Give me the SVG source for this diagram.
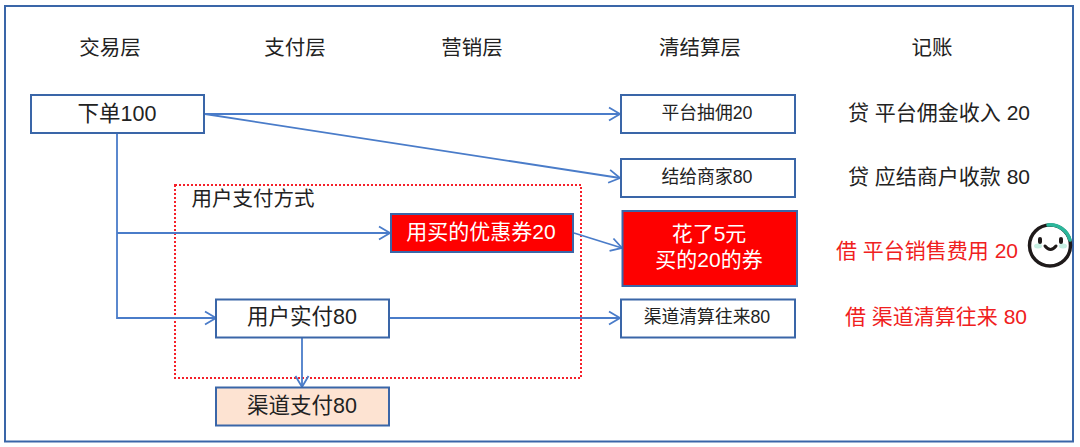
<svg xmlns="http://www.w3.org/2000/svg" width="1080" height="447" viewBox="0 0 1080 447">
<style>
text{font-family:"Liberation Sans","Noto Sans CJK SC",sans-serif;text-anchor:middle;fill:#222}
.box{fill:#fff;stroke:#3a66a8;stroke-width:2}
.c{fill:none;stroke:#4a7cc9;stroke-width:1.8}
.f20{font-size:20.5px}.f21{font-size:21px}.f22{font-size:21.5px}.f18{font-size:17.800px}
.red{fill:#f02020}
</style>
<defs>
<marker id="arr" markerUnits="userSpaceOnUse" markerWidth="14" markerHeight="16" refX="12" refY="8" orient="auto"><path d="M1 1.5 L12 8 L1 14.500" fill="none" stroke="#4a7cc9" stroke-width="1.8"/></marker>
</defs>
<rect width="1080" height="447" fill="#fff"/>
<rect id="frame" x="5" y="6" width="1068" height="435.500" fill="none" stroke="#3a66a8" stroke-width="2"/>
<g id="headers" class="f20">
<text x="110" y="55">交易层</text>
<text x="295" y="55">支付层</text>
<text x="472" y="55">营销层</text>
<text x="700" y="55">清结算层</text>
<text x="932" y="55">记账</text>
</g>
<g id="group-user-pay">
<rect x="175" y="185" width="406" height="193" fill="none" stroke="#f5202a" stroke-width="2" stroke-dasharray="2 2"/>
<text x="253" y="206" class="f20">用户支付方式</text>
</g>
<g id="connectors">
<path class="c" d="M205 114H620" marker-end="url(#arr)"/>
<path class="c" d="M205 114L620 178" marker-end="url(#arr)"/>
<path class="c" d="M117 133V318H216" marker-end="url(#arr)"/>
<path class="c" d="M117 233H390" marker-end="url(#arr)"/>
<path class="c" d="M574 233L622 248" marker-end="url(#arr)"/>
<path class="c" d="M390 318H620" marker-end="url(#arr)"/>
<path class="c" d="M302 338V387" marker-end="url(#arr)"/>
</g>
<g id="node-order"><rect class="box" x="31" y="95" width="173" height="38"/><text x="117" y="121" class="f22">下单100</text></g>
<g id="node-commission"><rect class="box" x="621" y="95" width="174" height="38"/><text x="707" y="119" class="f18">平台抽佣20</text></g>
<g id="node-merchant"><rect class="box" x="621" y="159" width="174" height="38"/><text x="707" y="183" class="f18">结给商家80</text></g>
<g id="node-coupon"><rect class="box" style="fill:#fe0000" x="391" y="214" width="182" height="38"/><text x="481" y="239" class="f21" style="fill:#fff">用买的优惠券20</text></g>
<g id="node-spent"><rect class="box" style="fill:#fe0000" x="622.500" y="211" width="174.500" height="75"/><text x="709" y="241" class="f21" style="fill:#fff">花了5元</text><text x="709" y="267" class="f21" style="fill:#fff">买的20的券</text></g>
<g id="node-userpay"><rect class="box" x="216" y="299.500" width="173" height="38"/><text x="302" y="324" class="f22">用户实付80</text></g>
<g id="node-channel-settle"><rect class="box" x="621" y="299.500" width="174" height="38"/><text x="707" y="323" class="f18">渠道清算往来80</text></g>
<g id="node-channel-pay"><rect class="box" style="fill:#fde3d2" x="216" y="387.500" width="173" height="38"/><text x="302" y="413" class="f22">渠道支付80</text></g>
<g id="ledger" class="f21">
<text x="939" y="120">贷 平台佣金收入 20</text>
<text x="939" y="184">贷 应结商户收款 80</text>
<text class="red" x="927" y="258">借 平台销售费用 20</text>
<text class="red" x="936" y="324">借 渠道清算往来 80</text>
</g>
<g id="face" fill="none" stroke-linecap="round">
<ellipse cx="1038" cy="246" rx="4" ry="2.500" fill="#c6efe2"/>
<ellipse cx="1063" cy="246" rx="4" ry="2.500" fill="#c6efe2"/>
<circle cx="1050" cy="245.500" r="20.500" stroke="#1f1a1a" stroke-width="3.500"/>
<path d="M1048 225A20.500 20.500 0 0 1 1070 240" stroke="#2bb79b" stroke-width="3.500"/>
<path d="M1040 242V239M1061 242V239" stroke="#1f1a1a" stroke-width="4"/>
<path d="M1045 246Q1050.500 253 1056 246" stroke="#1f1a1a" stroke-width="3"/>
</g>
</svg>
